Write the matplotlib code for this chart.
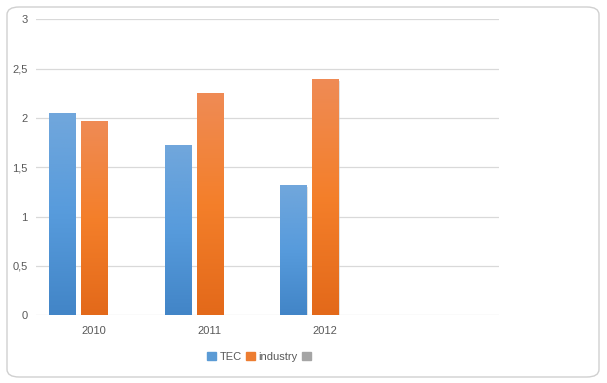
import numpy as np
import matplotlib.pyplot as plt
from matplotlib.patches import FancyBboxPatch, Patch
from matplotlib.colors import LinearSegmentedColormap

# --- data ---
categories = ["2010", "2011", "2012", ""]
tec = [2.04, 1.72, 1.31, 0]
industry = [1.96, 2.24, 2.39, 0]
series3 = [0, 0, 0, 0]
yticks = [0, 0.5, 1, 1.5, 2, 2.5, 3]
ylabels = ["0", "0,5", "1", "1,5", "2", "2,5", "3"]

plt.rcParams['font.family'] = ['Liberation Sans', 'DejaVu Sans']
text_col = "#595959"

fig = plt.figure(figsize=(6.07, 3.83), dpi=100)
ax = fig.add_axes([36/607, 1 - 315.3/383, 463/607, 296/383])

# colour ramps, light at the top, darker at the bottom
blue_cm = LinearSegmentedColormap.from_list("b", ["#4285c7", "#579bdc", "#71a7dc"])
orange_cm = LinearSegmentedColormap.from_list("o", ["#e3691a", "#f47f2a", "#ef8b55"])
ramp = np.linspace(0, 1, 256).reshape(-1, 1)

x = np.arange(len(categories)) + 0.5
width = 0.225
step = 0.276

def grad_bars(xs, vals, cmap):
    for xc, v in zip(xs, vals):
        if v <= 0:
            continue
        # light shadow on the right
        ax.bar(xc + 0.012, v, width, bottom=-0.012, color="#d0d0d0", alpha=0.6, zorder=2, align="center")
        ax.imshow(ramp, cmap=cmap, origin="lower", aspect="auto",
                  extent=(xc - width/2, xc + width/2, 0, v), zorder=3)

grad_bars(x - step, tec, blue_cm)
grad_bars(x, industry, orange_cm)
ax.bar(x + step, series3, width, color="#a5a5a5", zorder=3)

ax.set_xlim(0, len(categories))
ax.set_ylim(0, 3)
ax.set_yticks(yticks)
ax.set_yticklabels(ylabels)
ax.set_xticks(x)
ax.set_xticklabels(categories)
ax.tick_params(length=0, colors=text_col, labelsize=8)
ax.tick_params(axis="y", pad=6)
ax.tick_params(axis="x", pad=8)
for s in ax.spines.values():
    s.set_visible(False)
ax.grid(axis="y", color="#d9d9d9", linewidth=0.9, zorder=0)
ax.set_axisbelow(True)

handles = [Patch(color="#5b9bd5"), Patch(color="#ed7d31"), Patch(color="#a5a5a5")]
fig.legend(handles, ["TEC", "industry", ""], loc="center", bbox_to_anchor=(0.43, 0.068),
           ncol=3, frameon=False, fontsize=8, labelcolor=text_col,
           handlelength=0.8, handleheight=0.8, handletextpad=0.3, columnspacing=0.4)

border = FancyBboxPatch((7/607, 6/383), 592/607, 370/383,
                        boxstyle="round,pad=0,rounding_size=0.02",
                        transform=fig.transFigure, facecolor="none",
                        edgecolor="#d0d0d0", linewidth=1.0)
fig.patches.append(border)

fig.savefig("out.png", dpi=100)
